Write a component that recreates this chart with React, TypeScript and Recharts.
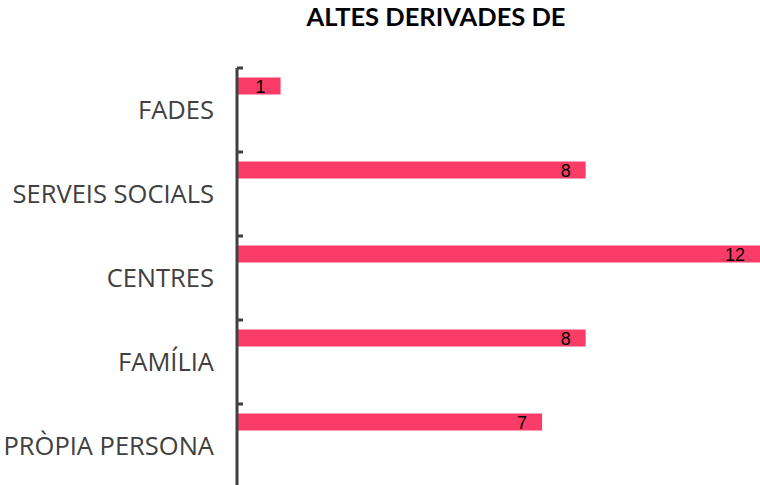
import { Bar, BarChart, LabelList, XAxis, YAxis } from "recharts";

const CATEGORIES = ["FADES", "SERVEIS SOCIALS", "CENTRES", "FAMÍLIA", "PRÒPIA PERSONA"];
const VALUES = [1, 8, 12, 8, 7];
const TITLE = "ALTES DERIVADES DE";

const BAR_COLOR = "#fb3c69";
const AXIS_COLOR = "#404040";
// Excel-style: bar sits near the top of its band instead of the middle
const BAR_SHIFT = 24.5;

const data = CATEGORIES.map((name, i) => ({ name, value: VALUES[i] }));

function CategoryTick(props: any) {
  const { x, y, payload } = props;
  const top = y - payload.offset;
  return (
    <g>
      <line x1={x + 8} x2={x + 14} y1={top} y2={top} stroke={AXIS_COLOR} strokeWidth={3} />
      <text
        x={x - 15}
        y={y - 1}
        textAnchor="end"
        dominantBaseline="central"
        fill={AXIS_COLOR}
        fontSize={25.5}
        fontFamily="'Open Sans', sans-serif"
      >
        {payload.value}
      </text>
    </g>
  );
}

function ShiftedBar(props: any) {
  const { x, y, width, height } = props;
  return <rect x={x} y={y - BAR_SHIFT} width={width} height={height} fill={BAR_COLOR} />;
}

function ValueLabel(props: any) {
  const { x, y, width, height, value } = props;
  return (
    <text
      x={x + width - 15}
      y={y - BAR_SHIFT + height / 2 + 1}
      textAnchor="end"
      dominantBaseline="central"
      fill="#000"
      fontSize={18}
      fontFamily="'Liberation Sans', sans-serif"
    >
      {value}
    </text>
  );
}

export default function App() {
  return (
    <div style={{ position: "fixed", left: 0, top: 0, width: 760, height: 485, overflow: "hidden", background: "#fff" }}>
      <div
        style={{
          position: "absolute",
          left: 0,
          width: 872,
          top: 1,
          textAlign: "center",
          fontFamily: "'Lato', sans-serif",
          fontWeight: 700,
          fontSize: 25.5,
          color: "#000",
        }}
      >
        {TITLE}
      </div>
      <BarChart
        width={760}
        height={490}
        data={data}
        layout="vertical"
        margin={{ top: 68, right: 0, bottom: 2, left: 0 }}
        style={{ position: "absolute", left: 0, top: 0 }}
      >
        <XAxis type="number" domain={[0, 12]} hide />
        <YAxis
          type="category"
          dataKey="name"
          width={237}
          axisLine={{ stroke: AXIS_COLOR, strokeWidth: 3 }}
          tickLine={false}
          tick={<CategoryTick />}
          interval={0}
        />
        <Bar dataKey="value" barSize={17} shape={<ShiftedBar />} isAnimationActive={false}>
          <LabelList dataKey="value" content={<ValueLabel />} />
        </Bar>
      </BarChart>
    </div>
  );
}
